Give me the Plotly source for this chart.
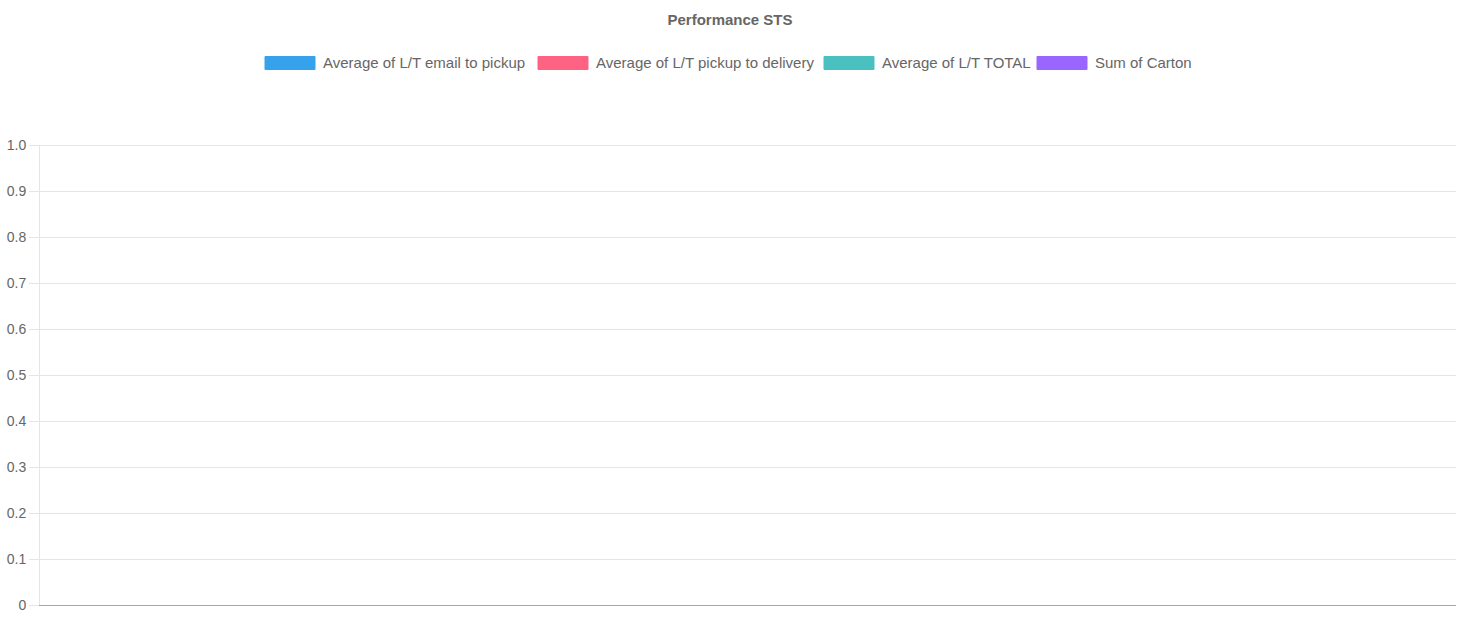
import plotly.graph_objects as go

# ---- data (the reference chart shows no data) ----
categories = []
series_names = [
    "Average of L/T email to pickup",
    "Average of L/T pickup to delivery",
    "Average of L/T TOTAL",
    "Sum of Carton",
]
series_values = [[], [], [], []]
series_colors = ["#36a2eb", "#ff6384", "#4bc0c0", "#9966ff"]
y_tick_vals = [0, 0.1, 0.2, 0.3, 0.4, 0.5, 0.6, 0.7, 0.8, 0.9, 1.0]
y_tick_text = ["0", "0.1", "0.2", "0.3", "0.4", "0.5", "0.6", "0.7", "0.8", "0.9", "1.0"]

W, H = 1460, 625
L, R, T, B = 40, 4, 145, 20
plot_w = W - L - R
plot_h = H - T - B

fig = go.Figure()
for name, vals, col in zip(series_names, series_values, series_colors):
    fig.add_trace(go.Bar(x=categories, y=vals, name=name, marker_color=col, showlegend=False))

# custom Chart.js-like legend (wide colour boxes)
legend_box_x = [265, 538, 824, 1037]
box_w, box_h = 50, 13
legend_cy = 63

def px_x(px):
    return (px - L) / plot_w

def px_y(py):
    return (H - B - py) / plot_h

FONT = "Liberation Sans, Arial, sans-serif"
shapes = []
annotations = []
for name, col, bx in zip(series_names, series_colors, legend_box_x):
    shapes.append(dict(type="rect", xref="paper", yref="paper",
                       x0=px_x(bx), x1=px_x(bx + box_w),
                       y0=px_y(legend_cy + box_h / 2), y1=px_y(legend_cy - box_h / 2),
                       fillcolor=col, line=dict(color=col, width=1)))
    annotations.append(dict(xref="paper", yref="paper", x=px_x(bx + box_w + 6), y=px_y(legend_cy),
                            xanchor="left", yanchor="middle", showarrow=False, text=name,
                            font=dict(family=FONT, size=15, color="#666666")))

# top gridline (Plotly hides the gridline sitting on the plot edge)
shapes.append(dict(type="line", xref="paper", yref="y", x0=0, x1=1,
                   y0=y_tick_vals[-1], y1=y_tick_vals[-1],
                   line=dict(color="#e5e5e5", width=1), layer="below"))

fig.update_layout(
    width=W, height=H,
    margin=dict(l=L, r=R, t=T, b=B),
    paper_bgcolor="white", plot_bgcolor="white",
    title=dict(text="<b>Performance STS</b>", x=0.5, xanchor="center",
               y=1 - 20 / H, yanchor="middle", yref="container",
               font=dict(family=FONT, size=15, color="#666666")),
    shapes=shapes,
    annotations=annotations,
    showlegend=False,
    xaxis=dict(showticklabels=False, showgrid=False, zeroline=False, ticks="",
               showline=True, linecolor="#a6a6a6", linewidth=1, range=[0, 1], fixedrange=True),
    yaxis=dict(range=[0, 1.0008], tickvals=y_tick_vals, ticktext=y_tick_text,
               showgrid=True, gridcolor="#e5e5e5", gridwidth=1, zeroline=False,
               showline=True, linecolor="#e5e5e5", linewidth=1,
               ticks="outside", ticklen=10, tickcolor="#e5e5e5",
               tickfont=dict(family=FONT, size=14, color="#666666")),
)

fig.write_html("out.html")
